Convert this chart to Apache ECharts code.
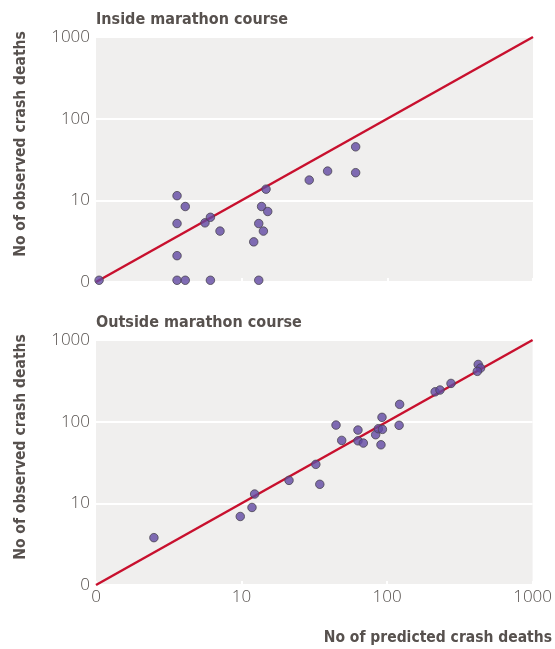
<!DOCTYPE html>
<html>
<head>
<meta charset="utf-8">
<script src="https://cdn.jsdelivr.net/npm/echarts@6/dist/echarts.min.js"></script>
<style>
html, body { margin: 0; padding: 0; background: #fff; }
#chart { width: 555px; height: 649px; }
</style>
</head>
<body>
<div id="chart"></div>
<script>
// axis ticks (0 is drawn at the floor of the log axis)
var tickValues = [1, 10, 100, 1000];
var tickLabels = ["0", "10", "100", "1000"];

// inside marathon course: predicted vs observed deaths (0 = none)
var insidePredicted = [0, 3.6, 4.1, 3.6, 3.6, 3.6, 4.1, 5.6, 6.1, 6.1, 7.1, 12.1, 13.1, 14.1, 13.7, 14.7, 15.1, 13.1, 29.1, 38.9, 60.6, 60.6];
var insideObserved  = [0, 11.4, 8.4, 5.2, 2.1, 0, 0, 5.3, 6.2, 0, 4.2, 3.1, 5.2, 4.2, 8.4, 13.7, 7.3, 0, 17.7, 22.8, 45.2, 21.8];

// outside marathon course
var outsidePredicted = [2.5, 9.8, 11.8, 12.3, 21.2, 32.4, 34.5, 44.6, 48.8, 63.1, 63.1, 68.7, 83.5, 87.1, 92.9, 92.3, 90.8, 122, 121, 214, 231, 275, 423, 439, 417];
var outsideObserved  = [3.8, 6.9, 8.9, 13.0, 19.1, 30, 17.1, 90.8, 59, 78.9, 58.3, 54.7, 69.2, 81.9, 80.5, 113, 52.1, 163, 90.2, 232, 244, 294, 502, 453, 413];

var refLine = [[1, 1], [1000, 1000]];

function pairs(xs, ys) {
    var out = [];
    for (let i = 0; i < xs.length; i++) {
        out.push([Math.max(xs[i], 1.05), Math.max(ys[i], 1.05)]);
    }
    return out;
}

function tickLabel(v) {
    var i = tickValues.indexOf(Math.round(v));
    return i >= 0 ? tickLabels[i] : "";
}

var labelFont = { color: "#55504d", fontSize: 17, fontFamily: "Open Sans", fontWeight: 300 };
var titleFont = "'DejaVu Sans Condensed', 'Liberation Sans Narrow', 'Open Sans', sans-serif";

function xAxis(idx, showLabels) {
    return {
        type: "log", logBase: 10, min: 1, max: 1000, gridIndex: idx,
        axisLine: { show: false },
        axisTick: { show: true, inside: true, length: 4, lineStyle: { color: "#ffffff", width: 2 } },
        splitLine: { show: false },
        axisLabel: Object.assign({ show: showLabels, margin: 4, formatter: tickLabel, showMinLabel: true, showMaxLabel: true }, labelFont)
    };
}

function yAxis(idx) {
    return {
        type: "log", logBase: 10, min: 1, max: 1000, gridIndex: idx,
        axisLine: { show: false },
        axisTick: { show: false },
        splitLine: { show: true, lineStyle: { color: "#ffffff", width: 2 } },
        axisLabel: Object.assign({ margin: 6, formatter: tickLabel, showMinLabel: true, showMaxLabel: true }, labelFont)
    };
}

function dots(idx, data) {
    return {
        type: "scatter", xAxisIndex: idx, yAxisIndex: idx, data: data,
        symbolSize: 8.5, z: 3,
        itemStyle: { color: "#6248a2", borderColor: "#4a4550", borderWidth: 1 }
    };
}

function line(idx) {
    return {
        type: "line", xAxisIndex: idx, yAxisIndex: idx, data: refLine,
        showSymbol: false, silent: true, z: 2,
        lineStyle: { color: "#c8102e", width: 2.5 }
    };
}

var chart = echarts.init(document.getElementById("chart"));
chart.setOption({
    animation: false,
    grid: [
        { left: 96, top: 37, width: 437, height: 245, show: true, backgroundColor: "#f0efee", borderWidth: 0 },
        { left: 96, top: 340, width: 437, height: 245, show: true, backgroundColor: "#f0efee", borderWidth: 0 }
    ],
    xAxis: [xAxis(0, false), xAxis(1, true)],
    yAxis: [yAxis(0), yAxis(1)],
    series: [
        line(0), dots(0, pairs(insidePredicted, insideObserved)),
        line(1), dots(1, pairs(outsidePredicted, outsideObserved))
    ],
    graphic: [
        { type: "text", left: 96, top: 12, style: { text: "Inside marathon course", fill: "#57514e", font: "bold 16px " + titleFont } },
        { type: "text", left: 96, top: 315, style: { text: "Outside marathon course", fill: "#57514e", font: "bold 16px " + titleFont } },
        { type: "text", x: 21, y: 144, rotation: Math.PI / 2, style: { text: "No of observed crash deaths", fill: "#57514e", font: "bold 15.5px " + titleFont, align: "center", verticalAlign: "middle" } },
        { type: "text", x: 21, y: 447, rotation: Math.PI / 2, style: { text: "No of observed crash deaths", fill: "#57514e", font: "bold 15.5px " + titleFont, align: "center", verticalAlign: "middle" } },
        { type: "text", x: 552, y: 638, style: { text: "No of predicted crash deaths", fill: "#57514e", font: "bold 15.5px " + titleFont, align: "right", verticalAlign: "middle" } }
    ]
});
</script>
</body>
</html>
